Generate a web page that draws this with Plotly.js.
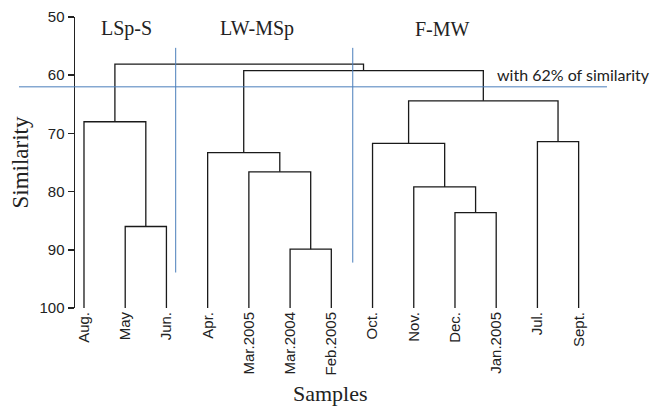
<!DOCTYPE html>
<html>
<head>
<meta charset="utf-8">
<script src="https://cdn.plot.ly/plotly-3.0.1.min.js"></script>
<style>html,body{margin:0;padding:0;background:#fff;}#chart{width:663px;height:407px;}</style>
</head>
<body>
<div id="chart"></div>
<script>
// Leaves (samples) in dendrogram order
const samples = ["Aug.", "May", "Jun.", "Apr.", "Mar.2005", "Mar.2004", "Feb.2005",
                 "Oct.", "Nov.", "Dec.", "Jan.2005", "Jul.", "Sept."];
// Merge steps: left node, right node (leaves 0..12, clusters 13..), similarity (%)
const mergeLeft  = [1, 0, 5, 4, 3, 9, 8, 7, 11, 20, 17, 14];
const mergeRight = [2, 13, 6, 15, 16, 10, 18, 19, 12, 21, 22, 23];
const mergeSim   = [86.0, 68.0, 89.9, 76.6, 73.3, 83.6, 79.2, 71.7, 71.4, 64.4, 59.2, 58.1];
// Group labels and cut level
const groupNames = ["LSp-S", "LW-MSp", "F-MW"];
const cutLevel = 62;
const cutText = "with 62% of similarity";
const yTicks = [50, 60, 70, 80, 90, 100];

// Build dendrogram coordinates
const leafPos = samples.map((s, i) => i + 1);
const nodeX = leafPos.slice();
const nodeH = samples.map(() => 100);
const dx = [], dy = [];
for (let k = 0; k < mergeSim.length; k++) {
  const a = mergeLeft[k], b = mergeRight[k], h = mergeSim[k];
  dx.push(nodeX[a], nodeX[a], nodeX[b], nodeX[b], null);
  dy.push(nodeH[a], h, h, nodeH[b], null);
  nodeX.push((nodeX[a] + nodeX[b]) / 2);
  nodeH.push(h);
}

const blue = "#4a7ebb";
const serif = "Liberation Serif, Times New Roman, serif";
const sans = "Liberation Sans, Arial, sans-serif";
const traces = [{
  x: dx, y: dy, type: "scatter", mode: "lines",
  line: {color: "#1a1a1a", width: 1.3},
  hoverinfo: "skip", showlegend: false, connectgaps: false
}];

const layout = {
  width: 663, height: 407,
  margin: {l: 75, r: 52, t: 17, b: 99},
  paper_bgcolor: "#fff", plot_bgcolor: "#fff",
  showlegend: false,
  xaxis: {
    range: [0.782, 13.785], showgrid: false, zeroline: false, showline: false,
    tickmode: "array", tickvals: leafPos, ticktext: samples, tickangle: -90,
    ticks: "", tickfont: {family: sans, size: 15, color: "#222"}
  },
  yaxis: {
    range: [100, 50], showgrid: false, zeroline: false,
    showline: true, linecolor: "#222", linewidth: 1.5,
    tickmode: "array", tickvals: yTicks, ticks: "outside", ticklen: 6, tickwidth: 1.5, tickcolor: "#222",
    tickfont: {family: sans, size: 15, color: "#222"},
    title: {text: "Similarity", font: {family: serif, size: 23, color: "#222"}, standoff: 4}
  },
  shapes: [
    {type: "line", xref: "paper", yref: "y", x0: -0.1045, x1: 0.9925, y0: cutLevel, y1: cutLevel, line: {color: blue, width: 1}},
    {type: "line", xref: "x", yref: "y", x0: 3.225, x1: 3.225, y0: 55.3, y1: 93.9, line: {color: blue, width: 1}},
    {type: "line", xref: "x", yref: "y", x0: 7.52, x1: 7.52, y0: 55.3, y1: 92.2, line: {color: blue, width: 1}}
  ],
  annotations: [
    {text: groupNames[0], xref: "x", yref: "y", x: 2.04, y: 52.0, showarrow: false, font: {family: serif, size: 20, color: "#222"}},
    {text: groupNames[1], xref: "x", yref: "y", x: 5.2, y: 52.0, showarrow: false, font: {family: serif, size: 20, color: "#222"}},
    {text: groupNames[2], xref: "x", yref: "y", x: 9.70, y: 52.0, showarrow: false, font: {family: serif, size: 20, color: "#222"}},
    {text: cutText, xref: "x", yref: "y", x: 10.97, y: 59.9, xanchor: "left", showarrow: false, font: {family: "Lato, Open Sans, sans-serif", size: 16, color: "#222"}},
    {text: "Samples", xref: "paper", yref: "paper", x: 0.476, y: -0.293, xanchor: "center", yanchor: "middle", showarrow: false, font: {family: serif, size: 22, color: "#222"}}
  ]
};

Plotly.newPlot("chart", traces, layout, {displayModeBar: false, staticPlot: true});
</script>
</body>
</html>
